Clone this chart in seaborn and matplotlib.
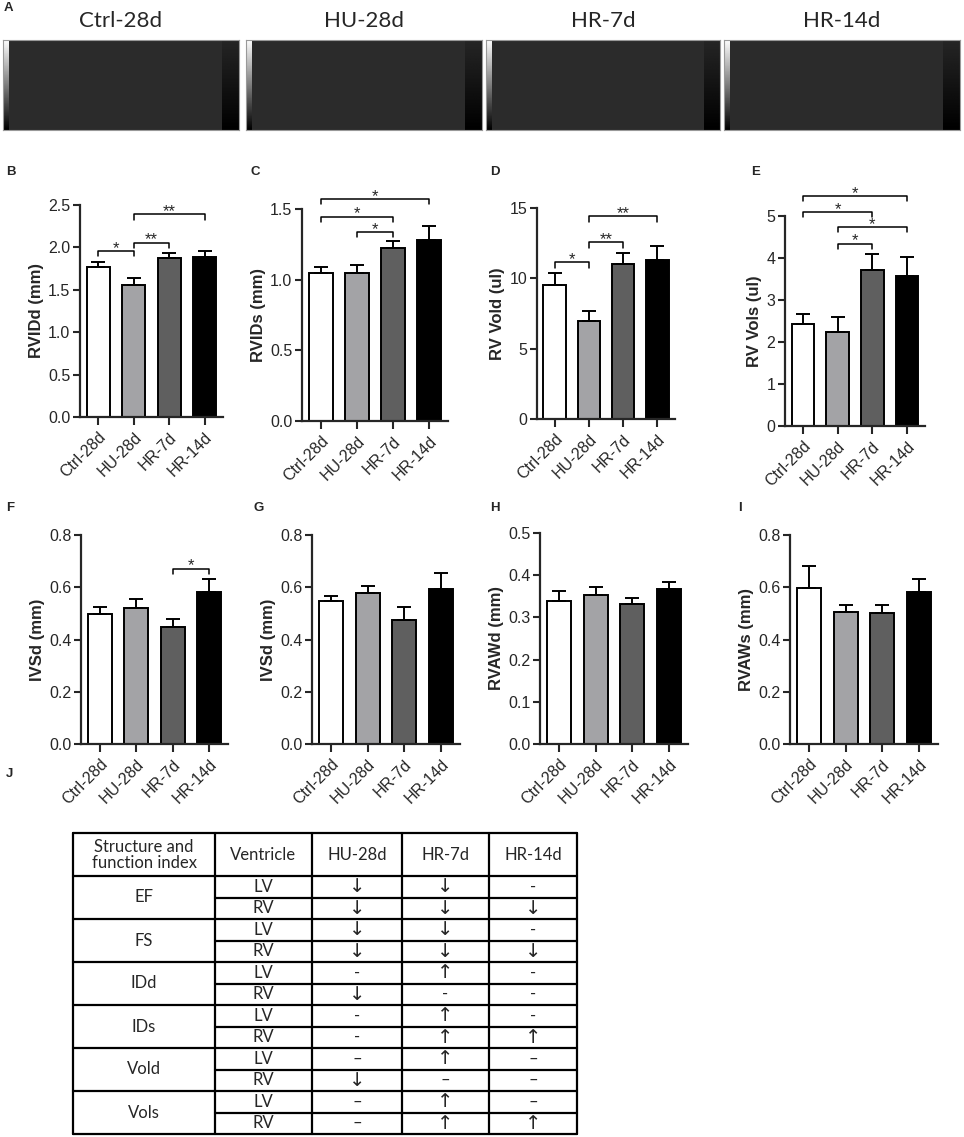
import numpy as np
import matplotlib
matplotlib.use('Agg')
import matplotlib.pyplot as plt
import seaborn as sns

# 組
groups = ['Ctrl-28d', 'HU-28d', 'HR-7d', 'HR-14d']
bar_colors = ['white', '#a3a3a7', '#5f5f5f', 'black']

# 各パネルの平均値と誤差（SEM）
rvidd = [1.77, 1.555, 1.88, 1.89]
rvidd_err = [0.06, 0.08, 0.05, 0.07]
rvids = [1.047, 1.047, 1.224, 1.283]
rvids_err = [0.042, 0.059, 0.052, 0.099]
rv_vold = [9.55, 6.94, 11.02, 11.33]
rv_vold_err = [0.85, 0.76, 0.76, 0.97]
rv_vols = [2.42, 2.25, 3.71, 3.57]
rv_vols_err = [0.25, 0.35, 0.39, 0.45]
ivsd_f = [0.498, 0.521, 0.447, 0.583]
ivsd_f_err = [0.028, 0.035, 0.031, 0.05]
ivsd_g = [0.547, 0.578, 0.476, 0.595]
ivsd_g_err = [0.021, 0.028, 0.05, 0.058]
rvawd = [0.338, 0.354, 0.331, 0.367]
rvawd_err = [0.024, 0.018, 0.015, 0.018]
rvaws = [0.599, 0.504, 0.500, 0.582]
rvaws_err = [0.083, 0.028, 0.031, 0.049]

# 有意差の括弧 (左の組, 右の組, 高さ, 記号)
sig_b = [(0, 1, 1.96, '*'), (1, 2, 2.055, '**'), (1, 3, 2.39, '**')]
sig_c = [(1, 2, 1.337, '*'), (0, 2, 1.446, '*'), (0, 3, 1.571, '*')]
sig_d = [(0, 1, 11.14, '*'), (1, 2, 12.56, '**'), (1, 3, 14.4, '**')]
sig_e = [(1, 2, 4.34, '*'), (1, 3, 4.74, '*'), (0, 2, 5.10, '*'), (0, 3, 5.48, '*')]
sig_f = [(2, 3, 0.671, '*')]

# 表J
table_header = ['Structure and\nfunction index', 'Ventricle', 'HU-28d', 'HR-7d', 'HR-14d']
indices = ['EF', 'FS', 'IDd', 'IDs', 'Vold', 'Vols']
ventricles = ['LV', 'RV']
hu_28d = ['↓', '↓', '↓', '↓', '-', '↓', '-', '-', '–', '↓', '–', '–']
hr_7d = ['↓', '↓', '↓', '↓', '↑', '-', '↑', '↑', '↑', '–', '↑', '↑']
hr_14d = ['-', '↓', '-', '↓', '-', '-', '-', '↑', '–', '–', '–', '↑']

sns.set_style('ticks')
plt.rcParams['font.family'] = ['Liberation Sans', 'DejaVu Sans']

W, H = 964, 1137
fig = plt.figure(figsize=(W / 100, H / 100), dpi=100)


def px_axes(l, t, r, b):
    return fig.add_axes([l / W, 1 - b / H, (r - l) / W, (b - t) / H])


def letter(x, y, s):
    fig.text(x / W, 1 - y / H, s, fontsize=9.5, fontweight='bold', ha='left', va='center')


def bar_panel(box, vals, errs, ymax, step, ylabel, fmt, sig=None):
    ax = px_axes(*box)
    sns.barplot(x=groups, y=vals, hue=groups, palette=bar_colors, order=groups,
                edgecolor='black', linewidth=1.4, width=0.66, legend=False,
                errorbar=None, ax=ax)
    ax.errorbar(range(4), vals, yerr=[np.zeros(4), errs], fmt='none', ecolor='black',
                elinewidth=1.4, capsize=5, capthick=1.4, zorder=1)
    ax.set_xlim(-0.52, 3.52)
    ax.set_ylim(0, ymax)
    ax.set_yticks(np.arange(0, ymax + step / 2, step))
    ax.set_yticklabels([fmt.format(v) for v in np.arange(0, ymax + step / 2, step)])
    ax.set_xticks(range(4))
    ax.set_xticklabels(groups, rotation=45, ha='right', rotation_mode='anchor')
    ax.set_xlabel('')
    ax.set_ylabel(ylabel, fontsize=12, fontweight='bold', labelpad=3)
    ax.tick_params(axis='both', labelsize=11.5, width=1.5, length=5, pad=2)
    ax.tick_params(axis='x', length=6, pad=3, labelsize=11.5)
    sns.despine(ax=ax)
    for s in ['left', 'bottom']:
        ax.spines[s].set_linewidth(1.6)
    if sig:
        leg = ymax * 0.025
        for i, j, y, lab in sig:
            ax.plot([i, i, j, j], [y - leg, y, y, y - leg], color='black', lw=1.1, clip_on=False)
            ax.annotate(lab, xy=((i + j) / 2, y), xytext=(0, -3.5), textcoords='offset points',
                        ha='center', va='bottom', fontsize=12, annotation_clip=False)
    return ax


# A: 心エコー画像（プレースホルダー）
letter(4, 8, 'A')
img_boxes = [(3, 40, 239, 130), (246, 40, 482, 130), (486, 40, 720, 130), (724, 40, 960, 130)]
strip = np.linspace(1, 0, 60).reshape(-1, 1)
for (l, t, r, b), g in zip(img_boxes, groups):
    ax = px_axes(l, t, r, b)
    ax.set_facecolor('#2b2b2b')
    ax.imshow(strip, cmap='gray', aspect='auto', extent=(0, 0.025, 0, 1), vmin=0, vmax=1)
    ax.imshow(strip * 0.15, cmap='gray', aspect='auto', extent=(0.93, 1, 0, 1), vmin=0, vmax=1)
    ax.set_xlim(0, 1)
    ax.set_ylim(0, 1)
    ax.set_xticks([])
    ax.set_yticks([])
    for s in ax.spines.values():
        s.set_color('#999999')
        s.set_linewidth(0.8)
    fig.text((l + r) / 2 / W, 1 - 21 / H, g, fontsize=16, ha='center', va='center',
             family=['Lato', 'DejaVu Sans'])

# B–E
letter(6, 172, 'B')
bar_panel((80, 205, 223, 417), rvidd, rvidd_err, 2.5, 0.5, 'RVIDd (mm)', '{:.1f}', sig_b)
letter(250, 172, 'C')
bar_panel((302, 209, 448, 421), rvids, rvids_err, 1.5, 0.5, 'RVIDs (mm)', '{:.1f}', sig_c)
letter(490, 172, 'D')
bar_panel((537, 208, 675, 419), rv_vold, rv_vold_err, 15, 5, 'RV Vold (ul)', '{:.0f}', sig_d)
letter(751, 172, 'E')
bar_panel((785, 216, 925, 426), rv_vols, rv_vols_err, 5, 1, 'RV Vols (ul)', '{:.0f}', sig_e)

# F–I
letter(6, 508, 'F')
bar_panel((81, 535, 228, 744), ivsd_f, ivsd_f_err, 0.8, 0.2, 'IVSd (mm)', '{:.1f}', sig_f)
letter(254, 508, 'G')
bar_panel((312, 535, 460, 744), ivsd_g, ivsd_g_err, 0.8, 0.2, 'IVSd (mm)', '{:.1f}')
letter(490, 508, 'H')
bar_panel((540, 533, 688, 744), rvawd, rvawd_err, 0.5, 0.1, 'RVAWd (mm)', '{:.1f}')
letter(738, 508, 'I')
bar_panel((790, 535, 938, 744), rvaws, rvaws_err, 0.8, 0.2, 'RVAWs (mm)', '{:.1f}')

# J: 表
letter(6, 774, 'J')
tx = px_axes(73, 833, 577, 1134)
tw, th = 504, 301
col_edges = [0, 142, 239, 329, 416, 504]
head_h = 43
row_h = (th - head_h) / (len(indices) * 2)
tx.set_xlim(0, tw)
tx.set_ylim(th, 0)
tx.axis('off')
lw = 1.6
for xe in col_edges:
    tx.plot([xe, xe], [0, th], color='black', lw=lw, clip_on=False)
tx.plot([0, tw], [0, 0], color='black', lw=lw, clip_on=False)
tx.plot([0, tw], [th, th], color='black', lw=lw, clip_on=False)
for k in range(len(indices) * 2):
    y = head_h + k * row_h
    x0 = 0 if k % 2 == 0 else col_edges[1]
    tx.plot([x0, tw], [y, y], color='black', lw=lw, clip_on=False)

tfont = dict(family=['Lato', 'DejaVu Sans'], fontsize=12, ha='center', va='center')
afont = dict(family=['DejaVu Sans'], fontsize=14, ha='center', va='center')
for c, txt in enumerate(table_header):
    tx.text((col_edges[c] + col_edges[c + 1]) / 2, head_h / 2, txt, linespacing=1.0, **tfont)
for n, name in enumerate(indices):
    tx.text(col_edges[0] + (col_edges[1] - col_edges[0]) / 2, head_h + (2 * n + 1) * row_h,
            name, **tfont)
for k in range(len(indices) * 2):
    yc = head_h + (k + 0.5) * row_h
    tx.text((col_edges[1] + col_edges[2]) / 2, yc, ventricles[k % 2], **tfont)
    for c, col in enumerate([hu_28d, hr_7d, hr_14d]):
        s = col[k]
        f = afont if s in ('↑', '↓') else tfont
        tx.text((col_edges[c + 2] + col_edges[c + 3]) / 2, yc, s, **f)

fig.savefig('out.png', dpi=100)
